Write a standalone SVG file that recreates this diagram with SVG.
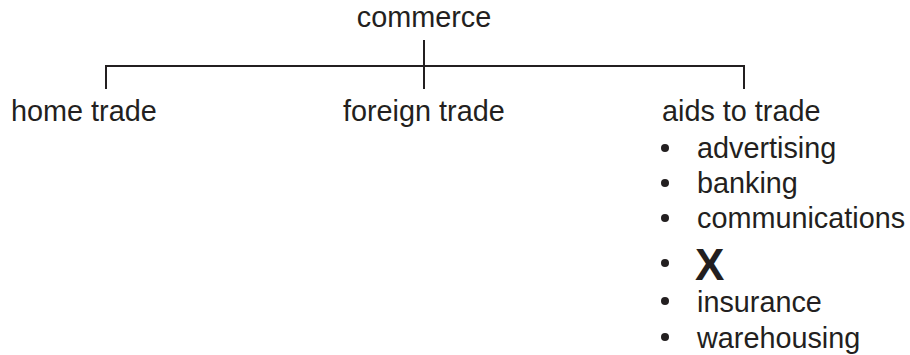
<svg xmlns="http://www.w3.org/2000/svg" width="910" height="355" viewBox="0 0 910 355">
<style>
.t{font-family:"Liberation Sans",Arial,Helvetica,sans-serif;font-size:28.8px;fill:#231f20}
.x{font-family:"Liberation Sans",Arial,Helvetica,sans-serif;font-size:44px;font-weight:bold;fill:#231f20}
.c{stroke:#231f20;stroke-width:2;fill:none}
.d{fill:#231f20}
</style>
<rect width="910" height="355" fill="#ffffff"/>
<g id="connectors">
<line class="c" x1="424" y1="40" x2="424" y2="89"/>
<polyline class="c" points="106,89 106,66 744,66 744,89"/>
</g>
<g id="commerce"><text class="t" x="424" y="27" text-anchor="middle">commerce</text></g>
<g id="home-trade"><text class="t" x="11" y="121">home trade</text></g>
<g id="foreign-trade"><text class="t" x="343" y="121">foreign trade</text></g>
<g id="aids-to-trade">
<text class="t" x="662" y="121">aids to trade</text>
<circle class="d" cx="665" cy="148" r="4"/><text class="t" x="697" y="158">advertising</text>
<circle class="d" cx="665" cy="183" r="4"/><text class="t" x="697" y="193">banking</text>
<circle class="d" cx="665" cy="218" r="4"/><text class="t" x="697" y="228">communications</text>
<circle class="d" cx="665" cy="263" r="4"/><text class="x" x="695" y="280">X</text>
<circle class="d" cx="665" cy="301" r="4"/><text class="t" x="697" y="312">insurance</text>
<circle class="d" cx="665" cy="337" r="4"/><text class="t" x="697" y="348">warehousing</text>
</g>
</svg>
